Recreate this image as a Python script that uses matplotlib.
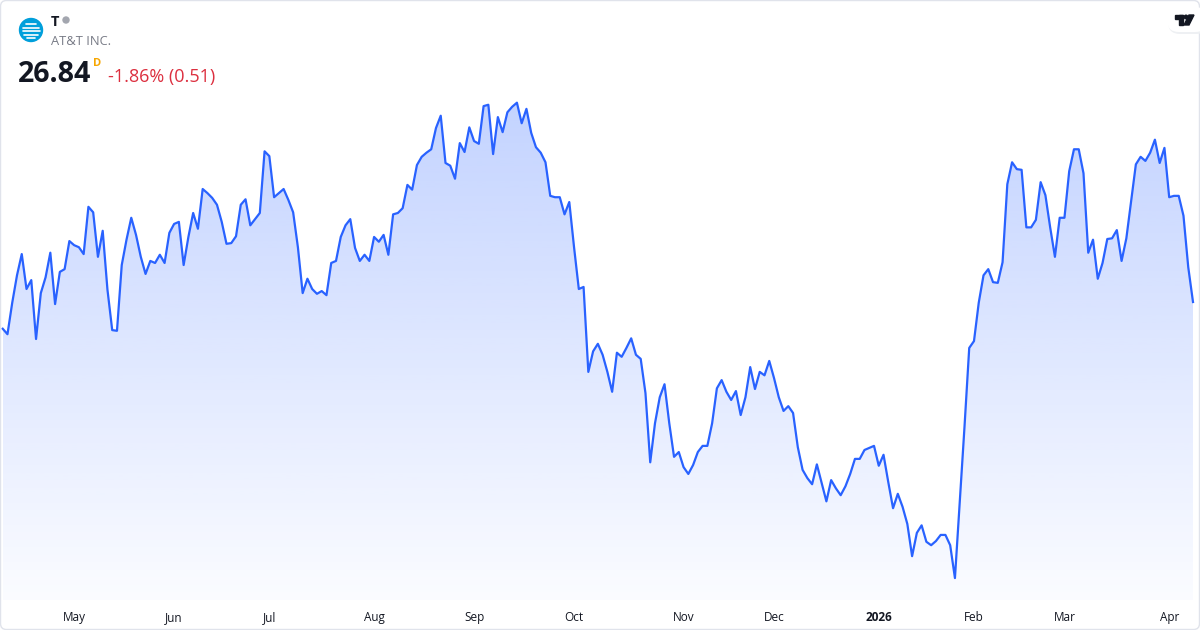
import numpy as np
import matplotlib.pyplot as plt
from matplotlib.patches import Circle, FancyBboxPatch, Polygon, Rectangle

plt.rcParams['font.family'] = ['Open Sans', 'DejaVu Sans']

# daily closes of T (AT&T), 9 Apr 2025 - 9 Apr 2026
first_day = '2025-04-09'
holidays = ['2025-04-18', '2025-05-26', '2025-06-19', '2025-07-04', '2025-09-01',
            '2025-11-27', '2025-12-25', '2026-01-01', '2026-01-19', '2026-02-16',
            '2026-04-03']

close = [
    26.45, 26.37, 26.83, 27.23, 27.54, 27.03, 27.16, 26.30, 26.97, 27.20,
    27.56, 26.81, 27.28, 27.32, 27.73, 27.67, 27.64, 27.54, 28.23, 28.15,
    27.50, 27.88, 27.02, 26.43, 26.42, 27.38, 27.75, 28.07, 27.82, 27.50,
    27.25, 27.44, 27.41, 27.53, 27.41, 27.85, 27.98, 28.01, 27.38, 27.79,
    28.14, 27.91, 28.49, 28.43, 28.36, 28.26, 28.01, 27.69, 27.70, 27.80,
    28.26, 28.34, 27.96, 28.05, 28.14, 29.04, 28.97, 28.37, 28.43, 28.49,
    28.33, 28.15, 27.64, 26.97, 27.18, 27.03, 26.96, 27.00, 26.94, 27.41,
    27.44, 27.79, 27.96, 28.05, 27.63, 27.44, 27.53, 27.44, 27.79, 27.72,
    27.82, 27.53, 28.12, 28.14, 28.21, 28.55, 28.48, 28.84, 28.96, 29.02,
    29.07, 29.38, 29.56, 28.87, 28.83, 28.64, 29.16, 29.03, 29.39, 29.19,
    29.15, 29.70, 29.72, 29.00, 29.54, 29.32, 29.61, 29.69, 29.75, 29.45,
    29.66, 29.31, 29.10, 29.02, 28.88, 28.39, 28.37, 28.37, 28.12, 28.30,
    27.64, 27.03, 27.06, 25.82, 26.12, 26.23, 26.07, 25.82, 25.53, 26.10,
    26.04, 26.17, 26.31, 26.07, 26.01, 25.51, 24.50, 25.07, 25.45, 25.64,
    25.07, 24.58, 24.65, 24.43, 24.33, 24.46, 24.65, 24.74, 24.74, 25.07,
    25.58, 25.70, 25.53, 25.41, 25.54, 25.19, 25.45, 25.89, 25.57, 25.82,
    25.77, 25.98, 25.73, 25.45, 25.25, 25.32, 25.22, 24.72, 24.39, 24.27,
    24.18, 24.47, 24.20, 23.93, 24.24, 24.12, 24.02, 24.15, 24.33, 24.55,
    24.55, 24.68, 24.71, 24.74, 24.45, 24.61, 24.21, 23.83, 24.04, 23.85,
    23.60, 23.13, 23.47, 23.58, 23.34, 23.29, 23.35, 23.44, 23.44, 23.29,
    22.81, 23.91, 25.01, 26.17, 26.27, 26.83, 27.23, 27.32, 27.13, 27.12,
    27.42, 28.56, 28.88, 28.78, 28.77, 27.93, 27.93, 28.04, 28.59, 28.40,
    27.93, 27.50, 28.07, 28.07, 28.75, 29.07, 29.07, 28.72, 27.56, 27.75,
    27.18, 27.41, 27.76, 27.77, 27.89, 27.44, 27.77, 28.31, 28.85, 28.96,
    28.90, 29.02, 29.21, 28.87, 29.09, 28.37, 28.39, 28.39, 28.10, 27.35,
    26.84,
]

ticker = 'T'
company = 'AT&T INC.'

LINE = '#2962FF'
TEXT = '#131722'

dates = np.busday_offset(first_day, np.arange(len(close)), roll='forward', holidays=holidays)
xs = np.arange(len(close))
months = dates.astype('datetime64[M]')
starts = np.where(months[1:] != months[:-1])[0] + 1
labels = []
for i in starts:
    d = dates[i].astype(object)
    labels.append(str(d.year) if d.month == 1 else d.strftime('%b'))

last = close[-1]
chg = last - close[-2]
pct = chg / close[-2] * 100

fig = plt.figure(figsize=(12, 6.3), dpi=100)
ax = fig.add_axes([0, 30 / 630, 1, 598 / 630])

y_lo, y_hi = 22.49, 31.22

fill = ax.fill_between(xs, close, y_lo, color='none', lw=0)
grad = np.zeros((256, 1, 4))
grad[..., :3] = [41 / 255, 98 / 255, 1.0]
grad[:, 0, 3] = np.linspace(0.28, 0.02, 256)
im = ax.imshow(grad, extent=[xs[0], xs[-1], y_lo, max(close)], aspect='auto',
               origin='upper', zorder=1, interpolation='bilinear')
im.set_clip_path(fill.get_paths()[0], transform=ax.transData)

ax.plot(xs, close, color=LINE, lw=1.6, solid_joinstyle='round', zorder=3)

ax.set_xlim(-0.57, 251.47)
ax.set_ylim(y_lo, y_hi)
ax.set_xticks(starts, labels)
ax.set_yticks([])
ax.tick_params(axis='x', length=0, pad=8, labelsize=8.5, labelcolor=TEXT)
for t in ax.get_xticklabels():
    if t.get_text().isdigit():
        t.set_fontweight('bold')
for s in ax.spines.values():
    s.set_visible(False)
ax.set_facecolor('none')

# header, logos and frame in pixel coordinates
oax = fig.add_axes([0, 0, 1, 1], zorder=5)
oax.set_xlim(0, 1200)
oax.set_ylim(630, 0)
oax.axis('off')

oax.add_patch(FancyBboxPatch((0.5, 0.5), 1199, 629, boxstyle='round,pad=0,rounding_size=6',
                             fc='none', ec='#e0e3eb', lw=1))

# AT&T globe
oax.add_patch(Circle((31, 30), 11.5, color='#009fdb'))
for yy, half in [(24, 5), (27.5, 8), (31, 8.5), (34.5, 7), (38, 4)]:
    oax.plot([31 - half, 31 + half], [yy, yy], color='white', lw=1.2, solid_capstyle='round')

oax.text(51, 26, ticker, fontsize=10.5, fontweight='bold', color=TEXT, va='baseline')
oax.add_patch(Circle((66, 20), 3, color='#a3a6af'))
oax.text(51, 45, company, fontsize=9.3, color='#787b86', va='baseline')
oax.text(18, 82, f'{last:.2f}', fontsize=20.6, fontweight='bold', color=TEXT, va='baseline')
oax.text(93, 66, 'D', fontsize=8, fontweight='bold', color='#f7a600', va='baseline')
oax.text(108, 82, f'{pct:.2f}% ({abs(chg):.2f})', fontsize=13, color='#dc2f3f', va='baseline')

# TradingView badge
oax.add_patch(FancyBboxPatch((1168, 8), 40, 26, boxstyle='round,pad=0,rounding_size=12',
                             fc='#eef0f3', ec='none'))
oax.add_patch(FancyBboxPatch((1167, 7), 40, 25, boxstyle='round,pad=0,rounding_size=12',
                             fc='white', ec='none'))
oax.add_patch(Rectangle((1175, 15), 8, 3.5, color=TEXT))
oax.add_patch(Rectangle((1179, 15), 4, 10, color=TEXT))
oax.add_patch(Circle((1186, 17), 1.8, color=TEXT))
oax.add_patch(Polygon([(1189, 15), (1194, 15), (1189, 25), (1184, 25)], color=TEXT))

fig.savefig('out.png', dpi=100)
